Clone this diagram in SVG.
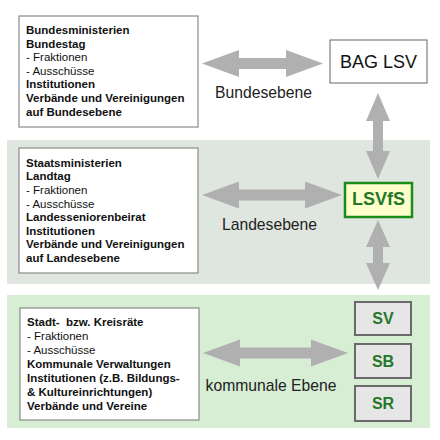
<svg xmlns="http://www.w3.org/2000/svg" width="440" height="440" viewBox="0 0 440 440">
<style>
.box{fill:#ffffff;stroke:#8a8a8a;stroke-width:1.2}
.t{font-family:"Liberation Sans",Arial,sans-serif;font-size:11.5px;fill:#111}
.b{font-weight:bold}
.lvl{font-family:"Liberation Sans",Arial,sans-serif;font-size:15.7px;fill:#222;text-anchor:middle}
.arrow{fill:#b0b0b0}
.sbox{fill:#e6e6e6;stroke:#6a6a6a;stroke-width:2}
.gt{font-family:"Liberation Sans",Arial,sans-serif;font-weight:bold;fill:#24782a;text-anchor:middle}
</style>
<rect width="440" height="440" fill="#ffffff"/>
<rect x="7" y="140" width="423" height="144" fill="#dfe6df"/>
<rect x="7" y="295" width="423" height="133" fill="#d7eed4"/>

<g id="connectors">
<polygon class="arrow" points="202,63.5 239,50 239,58 286,58 286,50 323,63.5 286,77 286,69 239,69 239,77"/>
<polygon class="arrow" points="202,195 239,181.5 239,189.5 305,189.5 305,181.5 342,195 305,208.5 305,200.5 239,200.5 239,208.5"/>
<polygon class="arrow" points="203,353 240,339.5 240,347.5 311,347.5 311,339.5 348,353 311,366.5 311,358.5 240,358.5 240,366.5"/>
<polygon class="arrow" points="378,93 390,121 383,121 383,151 390,151 378,179 366,151 373,151 373,121 366,121"/>
<polygon class="arrow" points="378,220 390,247 383,247 383,263 390,263 378,290 366,263 373,263 373,247 366,247"/>
<text class="lvl" x="263.5" y="98">Bundesebene</text>
<text class="lvl" x="269.5" y="230">Landesebene</text>
<text class="lvl" x="271" y="391">kommunale Ebene</text>
</g>

<g id="bund">
<rect class="box" x="19" y="16" width="179" height="111"/>
<text class="t b" x="26" y="34">Bundesministerien</text>
<text class="t b" x="26" y="47.6">Bundestag</text>
<text class="t" x="26" y="61.2">- Fraktionen</text>
<text class="t" x="26" y="74.8">- Ausschüsse</text>
<text class="t b" x="26" y="88.4">Institutionen</text>
<text class="t b" x="26" y="102">Verbände und Vereinigungen</text>
<text class="t b" x="26" y="115.6">auf Bundesebene</text>
</g>

<g id="bag-lsv">
<rect x="330" y="40" width="97" height="43" fill="#ffffff" stroke="#666" stroke-width="1"/>
<text x="378.5" y="68" font-family="Liberation Sans, Arial, sans-serif" font-size="18" fill="#111" text-anchor="middle">BAG LSV</text>
</g>

<g id="land">
<rect class="box" x="19" y="148" width="179" height="125"/>
<text class="t b" x="26" y="166.7">Staatsministerien</text>
<text class="t b" x="26" y="180.3">Landtag</text>
<text class="t" x="26" y="193.9">- Fraktionen</text>
<text class="t" x="26" y="207.5">- Ausschüsse</text>
<text class="t b" x="26" y="221.1">Landesseniorenbeirat</text>
<text class="t b" x="26" y="234.7">Institutionen</text>
<text class="t b" x="26" y="248.3">Verbände und Vereinigungen</text>
<text class="t b" x="26" y="261.9">auf Landesebene</text>
</g>

<g id="lsvfs">
<rect x="345" y="183" width="67" height="34" fill="#ffffcc" stroke="#1a8c1a" stroke-width="2.5"/>
<text class="gt" x="378.5" y="205" font-size="18">LSVfS</text>
</g>

<g id="kommunal">
<rect class="box" x="20" y="308" width="179" height="112" stroke="#777" stroke-width="1.5"/>
<text class="t b" x="27" y="326" xml:space="preserve" style="white-space:pre">Stadt-  bzw. Kreisräte</text>
<text class="t" x="27" y="340">- Fraktionen</text>
<text class="t" x="27" y="354">- Ausschüsse</text>
<text class="t b" x="27" y="368">Kommunale Verwaltungen</text>
<text class="t b" x="27" y="382">Institutionen (z.B. Bildungs-</text>
<text class="t b" x="27" y="396">&amp; Kultureinrichtungen)</text>
<text class="t b" x="27" y="410">Verbände und Vereine</text>
</g>

<g id="sv">
<rect class="sbox" x="355" y="302" width="56" height="33"/>
<text class="gt" x="383" y="324" font-size="16">SV</text>
</g>
<g id="sb">
<rect class="sbox" x="355" y="344" width="56" height="34"/>
<text class="gt" x="383" y="366.5" font-size="16">SB</text>
</g>
<g id="sr">
<rect class="sbox" x="355" y="386" width="56" height="35"/>
<text class="gt" x="383" y="409" font-size="16">SR</text>
</g>
</svg>
